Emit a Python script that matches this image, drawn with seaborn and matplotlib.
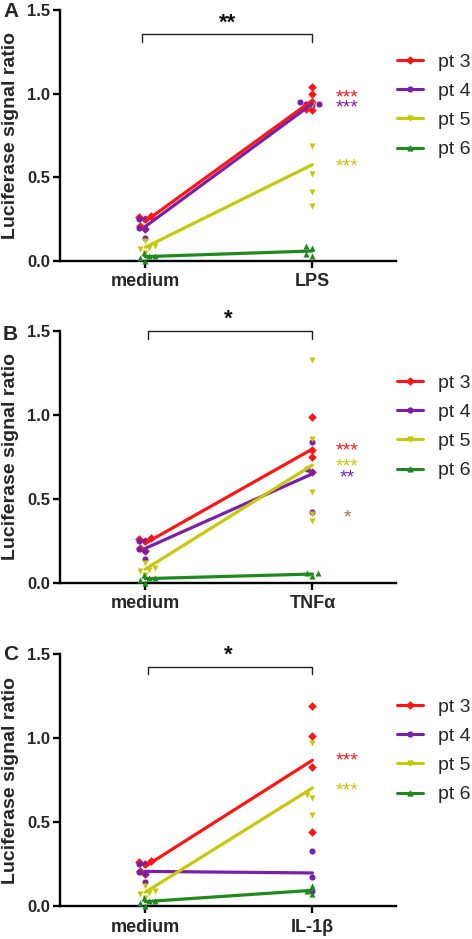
import numpy as np
import pandas as pd
import matplotlib
matplotlib.use("Agg")
import matplotlib.pyplot as plt
from matplotlib.lines import Line2D
import seaborn as sns
import warnings
warnings.filterwarnings("ignore")

sns.set_theme(style="ticks")
plt.rcParams['font.family'] = ['Liberation Sans', 'DejaVu Sans']

# ---------------- data ----------------
patients = ["pt 3", "pt 4", "pt 5", "pt 6"]
treatments = ["LPS", "TNF\u03b1", "IL-1\u03b2"]
panel_letters = ["A", "B", "C"]

medium_pt3 = [0.27, 0.26, 0.25, 0.19, 0.21]
medium_pt4 = [0.25, 0.25, 0.20, 0.19, 0.14]
medium_pt5 = [0.09, 0.12, 0.07, 0.05, 0.08]
medium_pt6 = [0.03, 0.00, 0.02, 0.03, 0.05]

lps_pt3 = [1.04, 1.00, 0.90, 0.91, 0.95]
lps_pt4 = [0.94, 0.94, 0.93, 0.95]
lps_pt5 = [0.93, 0.69, 0.52, 0.41, 0.33]
lps_pt6 = [0.09, 0.08, 0.03, 0.04]

tnf_pt3 = [0.99, 0.79, 0.75, 0.66]
tnf_pt4 = [0.84, 0.68, 0.66, 0.42]
tnf_pt5 = [1.33, 0.86, 0.54, 0.41, 0.37]
tnf_pt6 = [0.06, 0.04, 0.06]

il1_pt3 = [1.19, 1.01, 0.83, 0.44]
il1_pt4 = [0.33, 0.17, 0.09]
il1_pt5 = [0.97, 0.66, 0.64, 0.54]
il1_pt6 = [0.12, 0.09, 0.07]

# significance annotations: (text, y value, patient)
stars_lps = [("***", 0.995, "pt 3"), ("***", 0.94, "pt 4"), ("***", 0.585, "pt 5")]
stars_tnf = [("***", 0.81, "pt 3"), ("***", 0.714, "pt 5"), ("**", 0.647, "pt 4"), ("*", 0.41, "brown")]
stars_il1 = [("***", 0.887, "pt 3"), ("***", 0.708, "pt 5")]
bracket_text = ["**", "*", "*"]
bracket_y = [1.355, 1.50, 1.424]

medium = {"pt 3": medium_pt3, "pt 4": medium_pt4, "pt 5": medium_pt5, "pt 6": medium_pt6}
treated = [
    {"pt 3": lps_pt3, "pt 4": lps_pt4, "pt 5": lps_pt5, "pt 6": lps_pt6},
    {"pt 3": tnf_pt3, "pt 4": tnf_pt4, "pt 5": tnf_pt5, "pt 6": tnf_pt6},
    {"pt 3": il1_pt3, "pt 4": il1_pt4, "pt 5": il1_pt5, "pt 6": il1_pt6},
]
stars = [stars_lps, stars_tnf, stars_il1]

# ---------------- style ----------------
colors = {"pt 3": "#FF1414", "pt 4": "#7B1FA8", "pt 5": "#C8C80A", "pt 6": "#1E8A1E", "brown": "#A07845"}
markers = {"pt 3": "D", "pt 4": "o", "pt 5": "v", "pt 6": "^"}

W, H = 472, 939
fig = plt.figure(figsize=(W / 100, H / 100), dpi=100)

panel_px = [(10, 261), (331, 583), (654, 906)]
letter_y = [2, 325, 645]
legend_top = [53, 374, 698]
ax_left, ax_right = 60, 396

for i in range(3):
    top, bot = panel_px[i]
    ax = fig.add_axes([ax_left / W, 1 - bot / H, (ax_right - ax_left) / W, (bot - top) / H])

    rows = []
    for p in patients:
        for v in medium[p]:
            rows.append({"pt": p, "x": 0.0, "y": v})
        for v in treated[i][p]:
            rows.append({"pt": p, "x": 1.0, "y": v})
    df = pd.DataFrame(rows)

    for p in patients:
        sub = df[df.pt == p]
        sns.swarmplot(data=sub, x="x", y="y", native_scale=True, orient="x",
                      color=colors[p], marker=markers[p], size=4.4, linewidth=0,
                      ax=ax, zorder=3)
    for p in patients:
        sub = df[df.pt == p]
        sns.lineplot(data=sub, x="x", y="y", estimator="mean", errorbar=None,
                     color=colors[p], lw=2.3, ax=ax, zorder=4)

    ax.set_xlim(-0.51, 1.5)
    ax.set_ylim(0, 1.5)
    ax.set_yticks([0, 0.5, 1.0, 1.5])
    ax.set_yticklabels(["0.0", "0.5", "1.0", "1.5"], fontweight="bold", fontsize=12)
    ax.set_xticks([0, 1])
    ax.set_xticklabels(["medium", treatments[i]], fontweight="bold", fontsize=13)
    ax.set_xlabel("")
    ax.set_ylabel("Luciferase signal ratio", fontweight="bold", fontsize=14)
    ax.yaxis.set_label_coords(-41 / (ax_right - ax_left), 0.5)
    for s in ["top", "right"]:
        ax.spines[s].set_visible(False)
    for s in ["left", "bottom"]:
        ax.spines[s].set_linewidth(1.7)
        ax.spines[s].set_color("black")
    ax.tick_params(axis="both", width=1.7, length=5, color="black", pad=2)
    ax.tick_params(axis="x", pad=4)
    for coll in ax.collections:
        coll.set_clip_on(False)

    # bracket
    by = bracket_y[i]
    x0 = -0.02 if i == 0 else 0.017
    ax.plot([x0, x0, 1.0, 1.0], [by - 0.045, by, by, by - 0.045], color="#222222",
            lw=1.0, clip_on=False)
    ax.text(0.495, by + 0.035, bracket_text[i], ha="center", va="baseline",
            fontsize=16, fontweight="bold", color="#111111", clip_on=False)

    # per-patient stars
    for txt, yv, key in stars[i]:
        ax.annotate(txt, xy=(1.21, yv), xytext=(0, -6), textcoords="offset points",
                    ha="center", va="baseline", fontsize=14, color=colors[key],
                    annotation_clip=False)

    handles = [Line2D([0], [0], color=colors[p], marker=markers[p], markersize=3.5, lw=2.2)
               for p in patients]
    ax.legend(handles, patients, loc="upper left",
              bbox_to_anchor=(397 / W, 1 - legend_top[i] / H), bbox_transform=fig.transFigure,
              frameon=False, fontsize=14, handlelength=1.35, handletextpad=0.75,
              labelspacing=0.6, borderpad=0, borderaxespad=0)

    fig.text(3 / W, 1 - letter_y[i] / H, panel_letters[i], ha="left", va="top",
             fontsize=15, fontweight="bold")

fig.savefig("out.png", dpi=100)
